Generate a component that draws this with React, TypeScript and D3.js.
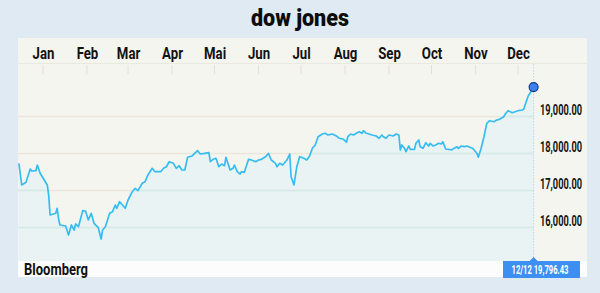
import React, { useLayoutEffect, useRef, useState } from "react";
import * as d3 from "d3";

// Day offsets from 2016-01-01 and DJIA close values
const days: number[] = [
  -17, -15, -12, -9, -8, -5, -4, -2, 3, 4, 5, 9, 10, 11, 12, 16, 18, 20, 22, 23, 25, 28, 30, 32, 34, 36, 39, 41, 42, 44,
  47, 49, 51, 52, 54, 58, 60, 63, 65, 67, 70, 72, 74, 77, 79, 83, 85, 87, 89, 92, 94, 96, 98, 100, 102, 105, 107, 109,
  111, 114, 117, 118, 120, 122, 124, 126, 128, 129, 132, 134, 135, 137, 139, 140, 142, 145, 147, 150, 152, 154, 157,
  159, 161, 164, 165, 167, 169, 172, 174, 175, 177, 179, 181, 184, 186, 188, 190, 192, 194, 197, 199, 201, 204, 207,
  209, 212, 214, 215, 217, 219, 221, 223, 225, 226, 228, 230, 232, 235, 237, 239, 240, 242, 244, 247, 249, 251, 252,
  253, 254, 255, 256, 258, 259, 262, 263, 265, 266, 268, 270, 272, 273, 275, 277, 279, 281, 282, 284, 286, 288, 290,
  292, 293, 295, 297, 299, 301, 303, 306, 307, 309, 311, 313, 315, 318, 320, 322, 325, 326, 328, 331, 333, 335, 338,
  339, 340, 342, 344, 346,
];
const values: number[] = [
  17735, 17149, 17222, 17581, 17527, 17535, 17689, 17465, 17149, 16878, 16338, 16384, 16519, 16230, 16068, 16041, 15797,
  16068, 15932, 16095, 16022, 16454, 16446, 16203, 16384, 16113, 15995, 15689, 15932, 16022, 16384, 16427, 16608, 16519,
  16697, 16519, 16743, 16968, 17059, 16995, 17195, 17238, 17419, 17600, 17508, 17508, 17600, 17643, 17778, 17735, 17600,
  17670, 17554, 17554, 17897, 17932, 18005, 18076, 17986, 18005, 18022, 17778, 17843, 17870, 17643, 17716, 17670, 17897,
  17554, 17600, 17689, 17508, 17446, 17508, 17492, 17843, 17824, 17778, 17824, 17843, 17914, 18005, 17824, 17735, 17643,
  17735, 17689, 17824, 17986, 17373, 17149, 17643, 17914, 17870, 17824, 17932, 18140, 18230, 18454, 18527, 18546, 18500,
  18527, 18473, 18411, 18384, 18303, 18454, 18527, 18500, 18546, 18589, 18546, 18616, 18546, 18527, 18500, 18473, 18411,
  18500, 18454, 18411, 18500, 18473, 18527, 18500, 18095, 18230, 18184, 18140, 18049, 18203, 18114, 18114, 18276, 18365,
  18184, 18140, 18292, 18203, 18276, 18203, 18230, 18276, 18257, 18319, 18122, 18114, 18095, 18140, 18184, 18140, 18203,
  18184, 18203, 18168, 18140, 18005, 17897, 18140, 18454, 18816, 18886, 18859, 18905, 18924, 18995, 19068, 19157, 19103,
  19130, 19157, 19176, 19195, 19311, 19535, 19670, 19796.43,
];
const monthLabels: string[] = ["Jan", "Feb", "Mar", "Apr", "Mai", "Jun", "Jul", "Aug", "Sep", "Oct", "Nov", "Dec"];
const yTicks: number[] = [16000, 17000, 18000, 19000];
const title = "dow jones";
const source = "Bloomberg";
const lastLabel = "12/12 19,796.43";

const FONT = "Roboto, 'Liberation Sans', 'DejaVu Sans', sans-serif";

type FitProps = {
  x: number;
  y: number;
  scale: number;
  anchor?: "start" | "middle" | "end";
  fontSize: number;
  fill?: string;
  weight?: number | string;
  children: string;
};

// Horizontally condensed text (the reference uses a condensed heavy face)
function CondText({ x, y, scale, anchor = "start", fontSize, fill = "#111", weight = 900, children }: FitProps) {
  return (
    <text
      transform={`translate(${x},${y}) scale(${scale},1)`}
      textAnchor={anchor}
      fontSize={fontSize}
      fontWeight={weight}
      fill={fill}
    >
      {children}
    </text>
  );
}

// Text fitted to a target width by measuring its natural width
function FitText(props: Omit<FitProps, "scale"> & { width: number }) {
  const ref = useRef<SVGTextElement>(null);
  const [s, setS] = useState(1);
  useLayoutEffect(() => {
    const measure = () => {
      if (!ref.current) return;
      const w = ref.current.getComputedTextLength();
      if (w > 0) setS(props.width / w);
    };
    measure();
    if ((document as any).fonts?.ready) (document as any).fonts.ready.then(measure);
  }, [props.width, props.children, props.fontSize]);
  const { x, y, anchor = "start", fontSize, fill = "#111", weight = 900, children } = props;
  return (
    <text
      ref={ref}
      transform={`translate(${x},${y}) scale(${s},1)`}
      textAnchor={anchor}
      fontSize={fontSize}
      fontWeight={weight}
      fill={fill}
    >
      {children}
    </text>
  );
}

export default function App() {
  const base = new Date(2016, 0, 1);
  const data = days.map((d, i) => ({ date: d3.timeDay.offset(base, d), value: values[i] }));

  const x = d3.scaleTime().domain([base, new Date(2016, 11, 1)]).range([43, 518]);
  const y = d3.scaleLinear().domain([16000, 19000]).range([227.5, 116.5]);

  const panelL = 18, panelR = 587, panelT = 38, panelB = 277;
  const plotT = 64, plotB = 261;
  const last = data[data.length - 1];
  const lx = x(last.date);
  const ly = y(last.value);

  const line = d3.line<{ date: Date; value: number }>().x((d) => x(d.date)).y((d) => y(d.value));
  const area = d3
    .area<{ date: Date; value: number }>()
    .x((d) => x(d.date))
    .y0(plotB)
    .y1((d) => y(d.value));
  const months = d3.timeMonth.range(base, new Date(2016, 11, 2));
  const fmt = d3.format(",.2f");

  return (
    <svg
      width={600}
      height={293}
      style={{ position: "absolute", left: 0, top: 0, background: "#dfeaf2" }}
      fontFamily={FONT}
    >
      <defs>
        <clipPath id="plotClip">
          <rect x={panelL} y={plotT} width={lx - panelL} height={plotB - plotT} />
        </clipPath>
        <clipPath id="areaClip">
          <path d={area(data) || ""} />
        </clipPath>
      </defs>
      <rect width={600} height={293} fill="#dfeaf2" />
      <FitText x={300} y={26} anchor="middle" fontSize={24} width={98} fill="#0d0d0d">
        {title}
      </FitText>
      {/* panel */}
      <rect x={panelL} y={panelT} width={panelR - panelL} height={panelB - panelT} fill="#f5f5f0" />
      <line x1={panelL} x2={panelR} y1={63.5} y2={63.5} stroke="#ebe8e0" strokeWidth={1} />
      {/* month labels and ticks */}
      {months.map((m, i) => (
        <g key={i}>
          <CondText x={x(m) + 0.5} y={58.5} anchor="middle" fontSize={16.5} scale={0.8} weight={700} fill="#121212">
            {monthLabels[i]}
          </CondText>
          <line x1={x(m)} x2={x(m)} y1={65} y2={74} stroke="#e4e0d6" strokeWidth={1} />
        </g>
      ))}
      {/* area under line */}
      <g clipPath="url(#plotClip)">
        <path d={area(data) || ""} fill="#e9f3f3" />
      </g>
      {/* gridlines */}
      {yTicks.map((t) => (
        <g key={t}>
          <line x1={panelL} x2={lx} y1={y(t)} y2={y(t)} stroke="#ebe5da" strokeWidth={1.5} />
          <line
            x1={panelL}
            x2={lx}
            y1={y(t)}
            y2={y(t)}
            stroke="#d3ebec"
            strokeWidth={1.5}
            clipPath="url(#areaClip)"
          />
          <FitText x={582} y={y(t) - 1.5} anchor="end" fontSize={15} width={42} weight={700} fill="#121212">
            {fmt(t)}
          </FitText>
        </g>
      ))}
      {/* vertical marker line */}
      <line x1={lx} x2={lx} y1={plotT} y2={plotB} stroke="#b9d8e8" strokeWidth={1} strokeDasharray="1.5 1.5" />
      {/* price line */}
      <g clipPath="url(#plotClip)">
        <path d={line(data) || ""} fill="none" stroke="#36bdf0" strokeWidth={1.7} strokeLinejoin="round" />
      </g>
      <circle cx={lx} cy={ly} r={4.5} fill="#3c7ff0" stroke="#173a8c" strokeWidth={1.2} />
      {/* bottom bar */}
      <rect x={panelL} y={plotB} width={panelR - panelL} height={panelB - plotB} fill="#fbfcfb" />
      <FitText x={24} y={275} fontSize={16.5} width={64} weight={700} fill="#111">
        {source}
      </FitText>
      <rect x={503} y={261} width={77} height={17} fill="#3d8ff2" />
      <path d={`M${lx - 4},261 L${lx},257 L${lx + 4},261 Z`} fill="#3d8ff2" />
      <FitText x={540} y={273.5} anchor="middle" fontSize={12.5} width={57} weight={700} fill="#ffffff">
        {lastLabel}
      </FitText>
    </svg>
  );
}
